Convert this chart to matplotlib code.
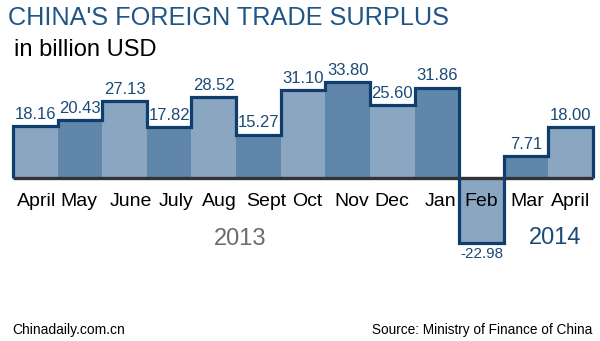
import matplotlib.pyplot as plt
import numpy as np

months = ['April', 'May', 'June', 'July', 'Aug', 'Sept', 'Oct',
          'Nov', 'Dec', 'Jan', 'Feb', 'Mar', 'April']
surplus = [18.16, 20.43, 27.13, 17.82, 28.52, 15.27, 31.10,
           33.80, 25.60, 31.86, -22.98, 7.71, 18.00]

plt.rcParams['font.family'] = ['Liberation Sans', 'DejaVu Sans']

W, H = 600, 341
fig = plt.figure(figsize=(W / 100, H / 100), dpi=100)
ax = fig.add_axes([0, 0, 1, 1])
ax.axis('off')

# pixel layout: bars from x=13 to 593, baseline at y=178 (from top)
left, right, base, scale = 13, 593, 178, 2.84
bw = (right - left) / len(months)
ax.set_xlim(-left / bw, (W - left) / bw)
ax.set_ylim(-(H - base) / scale, base / scale)

# month labels are nudged a little off the bar centres (pixels)
label_dx = [1, -1, 6, 7, 6, 8, 4, 4, 0, 4, 0, 1, 0]

light, dark, navy = '#8aa6c1', '#6087aa', '#0f3e6e'
x = np.arange(len(months))
colors = [light if i % 2 == 0 else dark for i in x]
ax.bar(x + 0.5, surplus, width=1.0, color=colors, linewidth=0, zorder=1)
ax.plot([0, len(months)], [0, 0], color='#333333', lw=2.4, zorder=2,
        solid_capstyle='butt')
ax.stairs(surplus, np.arange(len(months) + 1), baseline=0, color=navy,
          lw=2.3, zorder=3)

for i, v in enumerate(surplus):
    if v >= 0:
        ax.annotate(f'{v:.2f}', (i + 0.5, v), xytext=(0, 3),
                    textcoords='offset points', ha='center', va='bottom',
                    fontsize=12, color='#1b4a78')
    else:
        ax.annotate(f'{v:.2f}', (i + 0.5, v), xytext=(0, -3),
                    textcoords='offset points', ha='center', va='top',
                    fontsize=11, color='#1b4a78')
    ax.text(i + 0.5 + label_dx[i] / bw, -(201 - base) / scale, months[i],
            ha='center', va='center', fontsize=14, color='black', zorder=4)

ax.text((240 - left) / bw, -(239 - base) / scale, '2013', ha='center',
        va='center', fontsize=17, color='#6b6b6b')
ax.text((555 - left) / bw, -(238 - base) / scale, '2014', ha='center',
        va='center', fontsize=17, color='#1b4a78')

fig.text(8 / W, 1 - 18 / H, "CHINA'S FOREIGN TRADE SURPLUS", ha='left',
         va='center', fontsize=18.2, color='#1f5587')
fig.text(14 / W, 1 - 50 / H, 'in billion USD', ha='left', va='center',
         fontsize=17, color='black')
fig.text(12 / W, 1 - 330 / H, 'Chinadaily.com.cn', ha='left', va='center',
         fontsize=10, color='black')
fig.text(592 / W, 1 - 330 / H, 'Source: Ministry of Finance of China',
         ha='right', va='center', fontsize=9.8, color='black')

fig.savefig('out.png', dpi=100)
